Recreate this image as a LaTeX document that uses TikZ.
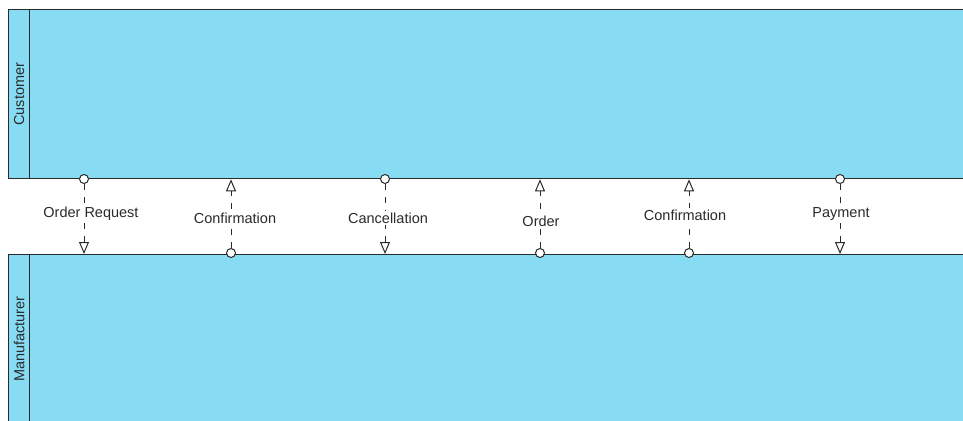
\documentclass[tikz,border=0pt]{standalone}
\usepackage{fontspec}
\setmainfont{Liberation Sans}
\usetikzlibrary{arrows.meta}
\definecolor{poolfill}{HTML}{87DCF4}
\definecolor{edge}{HTML}{2A2A2A}
\begin{document}
\begin{tikzpicture}[x=1pt,y=-1pt,
  every node/.style={font=\fontsize{14.5}{16}\selectfont, text=edge},
  pool/.style={draw=edge, line width=1.3pt, fill=poolfill, anchor=north west,
    minimum width=980pt, minimum height=169pt, inner sep=0pt},
  lanehead/.style={draw=edge, line width=1.3pt, fill=poolfill, anchor=north west,
    minimum width=21pt, minimum height=169pt, inner sep=0pt},
  port/.style={circle, draw=edge, fill=white, line width=1pt, minimum size=9pt, inner sep=0pt},
  msg/.style={draw=edge, line width=1pt, dash pattern=on 6pt off 7pt,
    -{Triangle[open, length=12pt, width=10pt, line width=1pt]}},
  msglabel/.style={fill=white, inner sep=1.5pt}]
\useasboundingbox (0,0) rectangle (963,420);
\clip (0,0) rectangle (963,420);
\fill[white] (0,0) rectangle (963,420);

% pools
\node[pool] (cust) at (8,9) {};
\node[lanehead] (custh) at (8,9) {};
\node[rotate=90] at (custh.center) {Customer};
\node[pool] (manu) at (8,254) {};
\node[lanehead] (manuh) at (8,254) {};
\node[rotate=90] at (manuh.center) {Manufacturer};

% message ports
\node[port] (s1) at (84,179) {};
\node[port] (s2) at (231,253) {};
\node[port] (s3) at (385,179) {};
\node[port] (s4) at (540,253) {};
\node[port] (s5) at (689,253) {};
\node[port] (s6) at (840,179) {};

% end points on the opposite pool border
\coordinate (e1) at (s1 |- manu.north);
\coordinate (e2) at (s2 |- cust.south);
\coordinate (e3) at (s3 |- manu.north);
\coordinate (e4) at (s4 |- cust.south);
\coordinate (e5) at (s5 |- cust.south);
\coordinate (e6) at (s6 |- manu.north);

% message flows
\draw[msg] (s1) -- (e1);
\draw[msg] (s2) -- (e2);
\draw[msg] (s3) -- (e3);
\draw[msg] (s4) -- (e4);
\draw[msg] (s5) -- (e5);
\draw[msg] (s6) -- (e6);

% labels
\node[msglabel] (l1) at (91,214) {Order Request};
\node[msglabel] (l2) at (235,218) {Confirmation};
\node[msglabel] (l3) at (388,218) {Cancellation};
\node[msglabel] (l4) at (541,221) {Order};
\node[msglabel] (l5) at (685,215) {Confirmation};
\node[msglabel] (l6) at (841,214) {Payment};
\end{tikzpicture}
\end{document}
